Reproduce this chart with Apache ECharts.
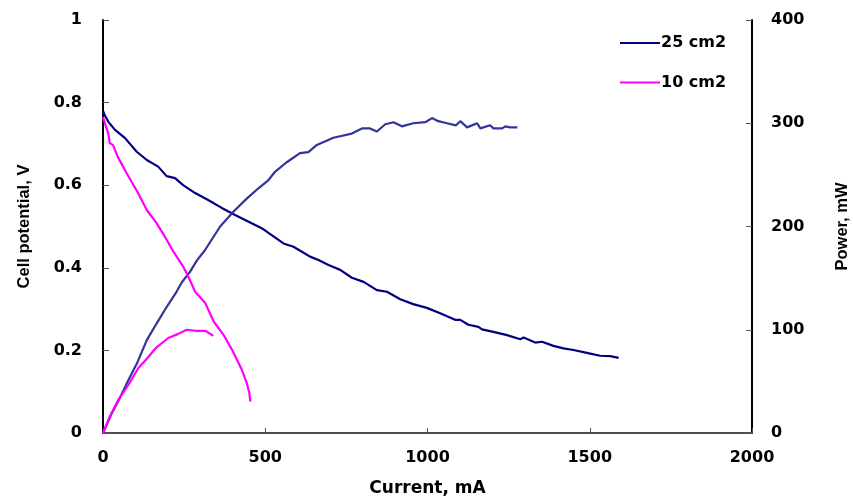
<!DOCTYPE html>
<html>
<head>
<meta charset="utf-8">
<script src="https://cdn.jsdelivr.net/npm/echarts@6/dist/echarts.min.js"></script>
<style>
html,body{margin:0;padding:0;background:#fff;}
#chart{width:853px;height:499px;}
</style>
</head>
<body>
<div id="chart"></div>
<script>
// Axis ticks
const xTicks = [0, 500, 1000, 1500, 2000];
const vTicks = [0, 0.2, 0.4, 0.6, 0.8, 1];
const pTicks = [0, 100, 200, 300, 400];

// 25 cm2 : cell potential (V) vs current (mA)
const cur25V = [0, 5, 16, 37, 68, 104, 135, 170, 196, 222, 247, 284, 324, 366, 407, 458, 489, 520, 556, 587, 613, 638, 664, 695, 731, 767, 803, 844, 875, 916, 956, 998, 1039, 1085, 1101, 1126, 1157, 1168, 1203, 1245, 1286, 1296, 1332, 1353, 1388, 1419, 1450, 1491, 1532, 1563, 1589];
const volt25 = [0.78, 0.77, 0.754, 0.734, 0.714, 0.681, 0.661, 0.645, 0.622, 0.617, 0.600, 0.581, 0.564, 0.545, 0.528, 0.508, 0.496, 0.479, 0.459, 0.451, 0.439, 0.427, 0.419, 0.407, 0.395, 0.376, 0.366, 0.346, 0.342, 0.324, 0.312, 0.303, 0.290, 0.274, 0.274, 0.262, 0.257, 0.251, 0.245, 0.237, 0.227, 0.231, 0.219, 0.221, 0.211, 0.205, 0.201, 0.194, 0.187, 0.186, 0.182];

// 25 cm2 : power (mW) vs current (mA)
const cur25P = [0, 27, 52, 78, 104, 135, 165, 196, 227, 243, 268, 289, 314, 361, 401, 443, 479, 510, 530, 565, 607, 633, 659, 710, 767, 798, 823, 844, 870, 895, 921, 956, 993, 1014, 1033, 1060, 1088, 1101, 1122, 1153, 1163, 1193, 1203, 1230, 1240, 1255, 1277];
const pow25 = [0, 19, 34, 51, 67, 90, 106, 122, 137, 146, 156, 167, 177, 200, 214, 227, 237, 245, 253, 262, 271, 272, 279, 286, 290, 295, 295, 292, 299, 301, 297, 300, 301, 305, 302, 300, 298, 302, 296, 300, 295, 298, 295, 295, 297, 296, 296];

// 10 cm2 : cell potential (V) vs current (mA)
const cur10V = [0, 8, 16, 21, 31, 46, 73, 108, 135, 165, 191, 217, 247, 262, 284, 315, 341, 372, 398, 428, 443, 451, 454];
const volt10 = [0.765, 0.745, 0.726, 0.702, 0.697, 0.668, 0.629, 0.581, 0.540, 0.508, 0.475, 0.439, 0.403, 0.380, 0.342, 0.315, 0.270, 0.237, 0.201, 0.153, 0.121, 0.097, 0.076];

// 10 cm2 : power (mW) vs current (mA)
const cur10P = [0, 21, 47, 78, 109, 135, 165, 201, 232, 258, 284, 315, 340];
const pow10 = [0, 16, 32, 46.5, 63, 72, 83, 92, 96, 100, 99, 99, 94];

const seriesNames = ['25 cm2', '10 cm2'];

function zip(a, b) { return a.map((v, i) => [v, b[i]]); }

const tickFont = { fontFamily: 'DejaVu Sans', fontWeight: 'bold', fontSize: 16, color: '#000' };
const titleFont = { fontFamily: 'Liberation Sans', fontWeight: 'bold', fontSize: 16.5, color: '#000' };
const xTitleFont = { fontFamily: 'DejaVu Sans', fontWeight: 'bold', fontSize: 17, color: '#000' };
const plain = v => String(v);

const chart = echarts.init(document.getElementById('chart'), null, { renderer: 'canvas' });
chart.setOption({
  animation: false,
  backgroundColor: '#fff',
  grid: { left: 103, right: 101, top: 20, bottom: 66, containLabel: false, outerBoundsMode: 'none' },
  legend: {
    data: seriesNames,
    orient: 'vertical',
    left: 620,
    top: 35,
    padding: 0,
    itemGap: 23.4,
    itemWidth: 40,
    itemHeight: 2,
    icon: 'rect',
    textStyle: { fontFamily: 'DejaVu Sans', fontWeight: 'bold', fontSize: 16, color: '#000', lineHeight: 16, padding: [0, 0, 0, -4] }
  },
  xAxis: [{
    type: 'value',
    min: xTicks[0], max: xTicks[xTicks.length - 1], interval: xTicks[1] - xTicks[0],
    name: 'Current, mA', nameLocation: 'middle', nameGap: 47,
    nameTextStyle: xTitleFont,
    axisLine: { show: true, onZero: false, lineStyle: { color: '#000', width: 2 } },
    axisTick: { show: true, inside: true, length: 5, lineStyle: { color: '#555', width: 1 } },
    axisLabel: Object.assign({ margin: 17, formatter: plain }, tickFont),
    splitLine: { show: false }
  }, {
    type: 'value', position: 'top',
    min: xTicks[0], max: xTicks[xTicks.length - 1],
    axisLine: { show: true, lineStyle: { color: '#666', width: 1.5 } },
    axisTick: { show: false }, axisLabel: { show: false }, splitLine: { show: false }
  }],
  yAxis: [{
    type: 'value',
    min: vTicks[0], max: vTicks[vTicks.length - 1], interval: vTicks[1] - vTicks[0],
    name: 'Cell potential, V', nameLocation: 'middle', nameGap: 70, nameRotate: 90,
    nameTextStyle: titleFont,
    axisLine: { show: true, onZero: false, lineStyle: { color: '#000', width: 2 } },
    axisTick: { show: true, inside: true, length: 6, lineStyle: { color: '#555', width: 1 } },
    axisLabel: Object.assign({ margin: 21, formatter: plain }, tickFont),
    splitLine: { show: false }
  }, {
    type: 'value', position: 'right',
    min: pTicks[0], max: pTicks[pTicks.length - 1], interval: pTicks[1] - pTicks[0],
    name: 'Power, mW', nameLocation: 'middle', nameGap: 82, nameRotate: 90,
    nameTextStyle: titleFont,
    axisLine: { show: true, onZero: false, lineStyle: { color: '#000', width: 2 } },
    axisTick: { show: true, inside: true, length: 6, lineStyle: { color: '#555', width: 1 } },
    axisLabel: Object.assign({ margin: 19, formatter: plain }, tickFont),
    splitLine: { show: false }
  }],
  series: [
    { name: seriesNames[0], type: 'line', xAxisIndex: 0, yAxisIndex: 0, data: zip(cur25V, volt25), symbol: 'none', color: '#000080', lineStyle: { color: '#000080', width: 2.2 } },
    { name: seriesNames[0], type: 'line', xAxisIndex: 0, yAxisIndex: 1, data: zip(cur25P, pow25), symbol: 'none', color: '#333399', lineStyle: { color: '#333399', width: 2.2 } },
    { name: seriesNames[1], type: 'line', xAxisIndex: 0, yAxisIndex: 0, data: zip(cur10V, volt10), symbol: 'none', color: '#FF00FF', lineStyle: { color: '#FF00FF', width: 2.2 } },
    { name: seriesNames[1], type: 'line', xAxisIndex: 0, yAxisIndex: 1, data: zip(cur10P, pow10), symbol: 'none', color: '#FF00FF', lineStyle: { color: '#FF00FF', width: 2.2 } }
  ]
});
</script>
</body>
</html>
